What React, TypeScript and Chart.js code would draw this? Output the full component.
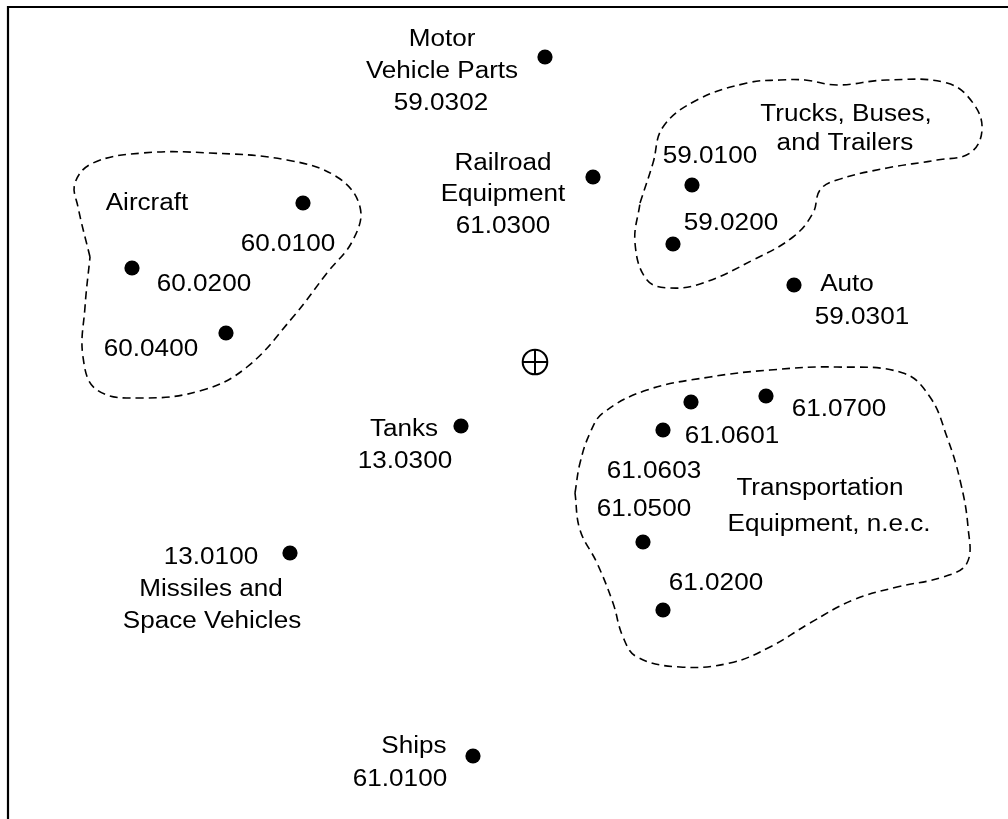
import React, { useEffect, useRef } from "react";
import { Chart, registerables } from "chart.js";

Chart.register(...registerables);

const W = 1008;
const H = 819;
const FONT = '"Liberation Sans", Arial, Helvetica, sans-serif';

// Industry codes and their positions on the two map dimensions
const codes = ["59.0302", "61.0300", "59.0100", "59.0200", "59.0301", "60.0100", "60.0200", "60.0400", "13.0300", "13.0100", "61.0100", "61.0700", "61.0601", "61.0603", "61.0500", "61.0200"];
const dimX = [545, 593, 692, 673, 794, 303, 132, 226, 461, 290, 473, 766, 691, 663, 643, 663];
const dimY = [57, 177, 185, 244, 285, 203, 268, 333, 426, 553, 756, 396, 402, 430, 542, 610];

// Centroid
const centroidX = [535];
const centroidY = [362];

// Cluster outlines
const aircraftX = [90, 78, 75, 93, 143, 210, 287, 337, 360, 353, 327, 293, 247, 203, 143, 97, 83, 85, 90];
const aircraftY = [257, 207, 183, 163, 153, 153, 160, 177, 207, 240, 273, 317, 367, 390, 398, 390, 357, 307, 257];
const trucksX = [640, 653, 663, 697, 747, 780, 805, 837, 887, 947, 973, 982, 970, 937, 887, 837, 820, 813, 793, 753, 703, 670, 647, 635, 640];
const trucksY = [203, 163, 127, 100, 83, 80, 80, 85, 80, 83, 103, 130, 153, 160, 168, 180, 190, 213, 237, 260, 283, 288, 280, 243, 203];
const transportX = [575, 580, 590, 603, 647, 710, 770, 837, 903, 930, 947, 960, 968, 967, 943, 897, 853, 810, 770, 730, 680, 637, 623, 613, 597, 580, 575];
const transportY = [493, 463, 433, 413, 390, 377, 370, 367, 373, 397, 437, 480, 527, 563, 577, 587, 600, 623, 647, 663, 667, 657, 637, 603, 563, 530, 493];

// Text labels
const labelTexts = [
  "Motor", "Vehicle Parts", "59.0302",
  "Railroad", "Equipment", "61.0300",
  "Trucks, Buses,", "and Trailers", "59.0100", "59.0200",
  "Auto", "59.0301",
  "Aircraft", "60.0100", "60.0200", "60.0400",
  "Tanks", "13.0300",
  "13.0100", "Missiles and", "Space Vehicles",
  "Ships", "61.0100",
  "61.0700", "61.0601", "61.0603", "61.0500", "61.0200",
  "Transportation", "Equipment, n.e.c.",
];
const labelX = [
  442, 442, 441,
  503, 503, 503,
  846, 845, 710, 731,
  847, 862,
  147, 288, 204, 151,
  404, 405,
  211, 211, 212,
  414, 400,
  839, 732, 654, 644, 716,
  820, 829,
];
const labelY = [
  38, 70, 102,
  162, 193, 225,
  113, 142, 155, 222,
  283, 316,
  202, 243, 283, 348,
  428, 460,
  556, 588, 620,
  745, 778,
  408, 435, 470, 508, 582,
  487, 523,
];

const pts = (xs: number[], ys: number[]) => xs.map((x, i) => ({ x, y: ys[i] }));

const labelPlugin = {
  id: "textLabels",
  afterDatasetsDraw(chart: any) {
    const ctx = chart.ctx as CanvasRenderingContext2D;
    const xs = chart.scales.x;
    const ys = chart.scales.y;
    ctx.save();
    ctx.fillStyle = "#000";
    ctx.font = `23.5px ${FONT}`;
    ctx.textAlign = "center";
    ctx.textBaseline = "alphabetic";
    labelTexts.forEach((t, i) => {
      const px = xs.getPixelForValue(labelX[i]);
      const py = ys.getPixelForValue(labelY[i]);
      ctx.save();
      ctx.translate(px, py + 8.4);
      ctx.scale(1.11, 1);
      ctx.fillText(t, 0, 0);
      ctx.restore();
    });
    ctx.restore();
  },
};

const framePlugin = {
  id: "frame",
  afterDraw(chart: any) {
    const ctx = chart.ctx as CanvasRenderingContext2D;
    ctx.save();
    ctx.strokeStyle = "#000";
    ctx.lineWidth = 2.2;
    ctx.beginPath();
    ctx.moveTo(8, H);
    ctx.lineTo(8, 7);
    ctx.lineTo(W, 7);
    ctx.stroke();
    ctx.restore();
  },
};

const blob = (xs: number[], ys: number[]) => ({
  data: pts(xs, ys),
  showLine: true,
  tension: 0.4,
  borderColor: "#000",
  borderWidth: 1.6,
  borderDash: [8, 5],
  pointRadius: 0,
  fill: false,
});

export default function App() {
  const ref = useRef<HTMLCanvasElement | null>(null);
  useEffect(() => {
    if (!ref.current) return;
    const chart = new Chart(ref.current, {
      type: "scatter",
      data: {
        datasets: [
          blob(aircraftX, aircraftY) as any,
          blob(trucksX, trucksY) as any,
          blob(transportX, transportY) as any,
          {
            data: pts(dimX, dimY),
            pointRadius: 7.6,
            pointBackgroundColor: "#000",
            pointBorderColor: "#000",
            pointBorderWidth: 0,
            showLine: false,
          },
          {
            data: pts(centroidX, centroidY),
            pointStyle: "circle",
            pointRadius: 12.3,
            pointBackgroundColor: "rgba(0,0,0,0)",
            pointBorderColor: "#000",
            pointBorderWidth: 2,
            showLine: false,
          },
          {
            data: pts(centroidX, centroidY),
            pointStyle: "cross",
            pointRadius: 12.3,
            pointBorderColor: "#000",
            pointBorderWidth: 2,
            showLine: false,
          },
        ],
      },
      options: {
        animation: false,
        responsive: false,
        events: [],
        layout: { padding: 0, autoPadding: false },
        plugins: {
          legend: { display: false },
          tooltip: { enabled: false },
          title: { display: false },
        },
        scales: {
          x: { type: "linear", min: 0, max: W, display: false },
          y: { type: "linear", min: 0, max: H, reverse: true, display: false },
        },
      },
      plugins: [labelPlugin, framePlugin],
    });
    return () => chart.destroy();
  }, []);
  return (
    <div style={{ position: "absolute", left: 0, top: 0, width: W, height: H, background: "#fff" }}>
      <canvas ref={ref} width={W} height={H} style={{ display: "block", width: W, height: H }} />
    </div>
  );
}
